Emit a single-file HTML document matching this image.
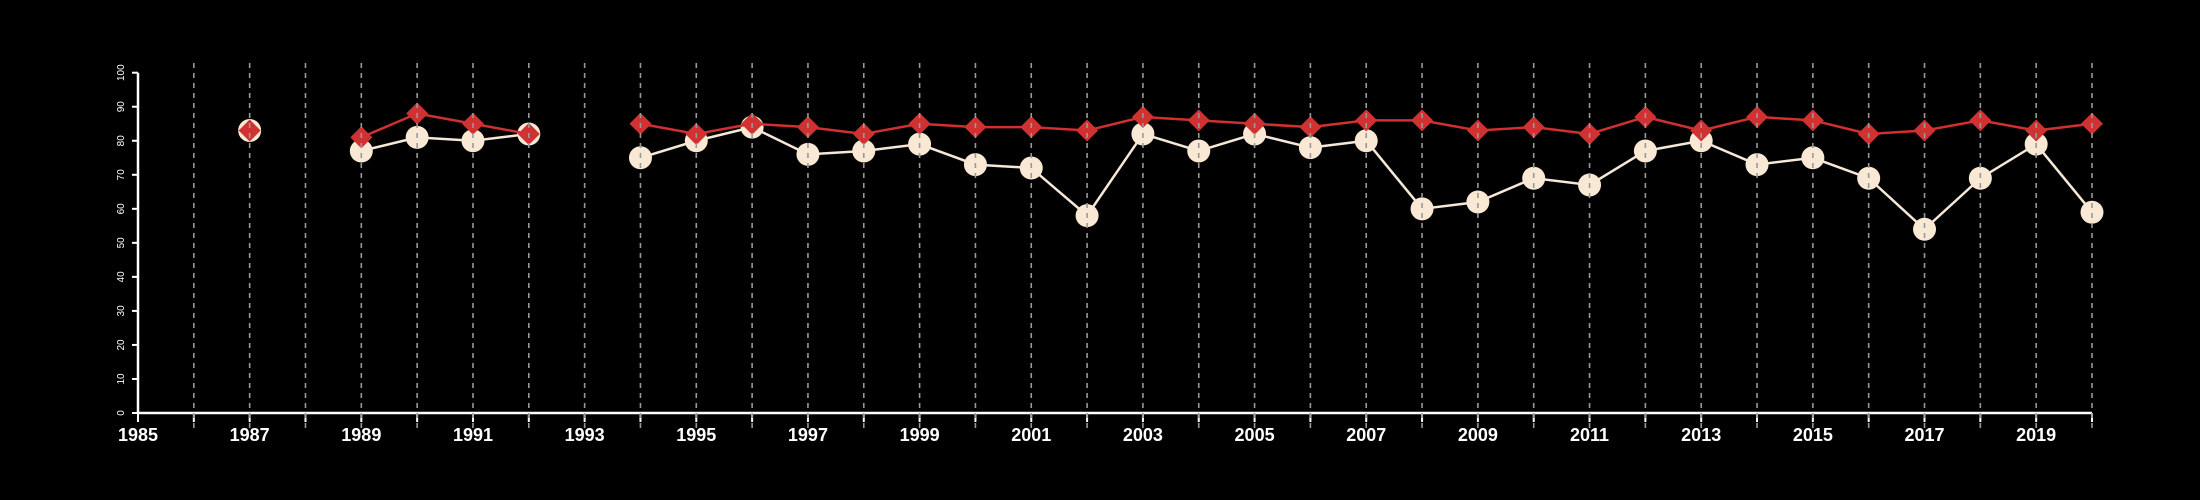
<!DOCTYPE html>
<html><head><meta charset="utf-8"><style>html,body{margin:0;padding:0;background:#000;}svg{display:block}</style></head>
<body>
<svg id="chart" width="2200" height="500" xmlns="http://www.w3.org/2000/svg" style="font-family:'Liberation Sans',sans-serif">
<rect width="2200" height="500" fill="#000"/>
<g id="axes"></g>
<g id="series"></g>
<g id="grid"></g>
</svg>
<script>
const years = [1987,1988,1989,1990,1991,1992,1993,1994,1995,1996,1997,1998,1999,2000,2001,2002,2003,2004,2005,2006,2007,2008,2009,2010,2011,2012,2013,2014,2015,2016,2017,2018,2019,2020];
const seriesA = [83,null,77,81,80,82,null,75,80,84,76,77,79,73,72,58,82,77,82,78,80,60,62,69,67,77,80,73,75,69,54,69,79,59];
const seriesB = [83,null,81,88,85,82,null,85,82,85,84,82,85,84,84,83,87,86,85,84,86,86,83,84,82,87,83,87,86,82,83,86,83,85];
const yTicks = [0,10,20,30,40,50,60,70,80,90,100];
const xLabelYears = [1985,1987,1989,1991,1993,1995,1997,1999,2001,2003,2005,2007,2009,2011,2013,2015,2017,2019];

const NS='http://www.w3.org/2000/svg';
const X0=138, X1=2092, Y0=413, Y1=72.7;
const xMin=1985, xMax=2020;
function xs(v){return X0+(v-xMin)*(X1-X0)/(xMax-xMin);}
function ys(v){return Y0-(v/100)*(Y0-Y1);}
function mk(tag,attrs,parent){const e=document.createElementNS(NS,tag);for(const k in attrs)e.setAttribute(k,attrs[k]);parent.appendChild(e);return e;}
const axes=document.getElementById('axes'), ser=document.getElementById('series'), grid=document.getElementById('grid');

let e=mk('line',{x1:X0,y1:Y0,x2:X1,y2:Y0,stroke:'#fff','stroke-width':2.5},axes);


e=mk('line',{x1:X0,y1:Y0,x2:X0,y2:Y1,stroke:'#fff','stroke-width':2.5},axes);


yTicks.forEach(t=>{
  const y=ys(t);
  let l=mk('line',{x1:X0-6,y1:y,x2:X0,y2:y,stroke:'#fff','stroke-width':2},axes);
  
  
  let tx=mk('text',{x:0,y:0,fill:'#fff','font-size':10,'text-anchor':'middle',transform:`translate(${X0-14},${y}) rotate(-90)`},axes);
  tx.textContent=t;
  
  
});
for(let yr=xMin; yr<=xMax; yr++){
  const x=xs(yr);
  let l=mk('line',{x1:x,y1:Y0,x2:x,y2:Y0+9,stroke:'#fff','stroke-width':2},axes);
  
  
  if(yr>xMin){
    let g=mk('line',{x1:x,y1:63,x2:x,y2:428,stroke:'#999','stroke-width':1.6,'stroke-dasharray':'5,5'},grid);
    
    
  }
}
xLabelYears.forEach(yr=>{
  let tx=mk('text',{x:xs(yr),y:441,fill:'#fff','font-size':18,'font-weight':'bold','text-anchor':'middle'},axes);
  tx.textContent=yr;
  
  
});

function segs(vals){const out=[];let cur=[];vals.forEach((v,i)=>{if(v==null){if(cur.length)out.push(cur);cur=[];}else cur.push([xs(years[i]),ys(v)]);});if(cur.length)out.push(cur);return out;}

segs(seriesA).forEach(s=>{if(s.length>1){let p=mk('polyline',{points:s.map(q=>q.join(',')).join(' '),fill:'none',stroke:'#f5e8d8','stroke-width':2.5},ser);

}});
seriesA.forEach((v,i)=>{if(v==null)return;let c=mk('circle',{cx:xs(years[i]),cy:ys(v),r:11.5,fill:'#f8e8d4'},ser);

});
segs(seriesB).forEach(s=>{if(s.length>1){let p=mk('polyline',{points:s.map(q=>q.join(',')).join(' '),fill:'none',stroke:'#d0302f','stroke-width':2.5},ser);

}});
seriesB.forEach((v,i)=>{if(v==null)return;const x=xs(years[i]),y=ys(v),d=11;
let p=mk('polygon',{points:`${x},${y-d} ${x+d},${y} ${x},${y+d} ${x-d},${y}`,fill:'#d03232'},ser);

});
</script>
</body></html>
